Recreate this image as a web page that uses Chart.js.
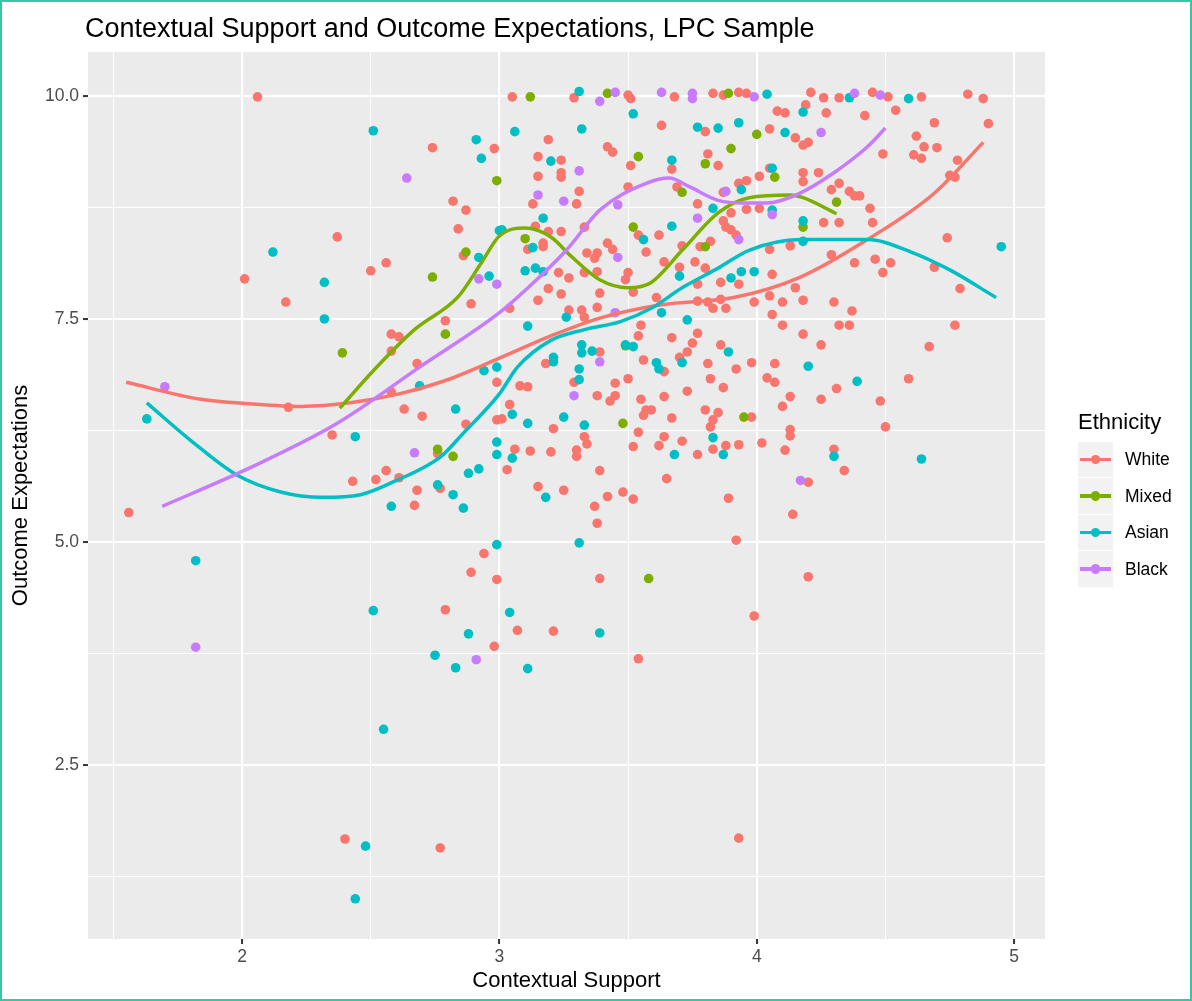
<!DOCTYPE html>
<html>
<head>
<meta charset="utf-8">
<title>Contextual Support and Outcome Expectations</title>
<script src="https://cdn.jsdelivr.net/npm/chart.js@4.4.1/dist/chart.umd.min.js"></script>
<style>
  html, body { margin: 0; padding: 0; background: #ffffff; }
  #wrap { position: relative; width: 1192px; height: 1001px; overflow: hidden; background: #ffffff; }
  #frame { position: absolute; left: 0; top: 0; width: 1188px; height: 997px; border: 2px solid #35c9a3; pointer-events: none; z-index: 3; }
  #chart { position: absolute; left: 0; top: 0; }
  #title { position: absolute; left: 85px; top: 12px; font-family: "Liberation Sans", Arial, sans-serif; font-size: 27px; line-height: 32px; color: #000; white-space: nowrap; z-index: 2; }
  #legend { position: absolute; left: 1078px; top: 408px; font-family: "Liberation Sans", Arial, sans-serif; z-index: 2; }
  #legend .ltitle { font-size: 22px; line-height: 28px; color: #000; margin-bottom: 5px; }
  #legend .row { position: relative; height: 36.5px; }
  #legend .key { position: absolute; left: 0; top: 0.5px; width: 34.5px; height: 35.5px; background: #f2f2f2; }
  #legend .key .ln { position: absolute; left: 2px; right: 2px; top: 16px; height: 3.5px; }
  #legend .key .dt { position: absolute; left: 12.5px; top: 13px; width: 9.6px; height: 9.6px; border-radius: 50%; }
  #legend .lab { position: absolute; left: 47px; top: 0; line-height: 36.5px; font-size: 17.5px; color: #000; }
</style>
</head>
<body>
<div id="wrap">
  <canvas id="chart" width="1192" height="1001"></canvas>
  <div id="title">Contextual Support and Outcome Expectations, LPC Sample</div>
  <div id="legend"></div>
  <div id="frame"></div>
</div>
<script>
// ---- groups and colours ----
const groups = ['White', 'Mixed', 'Asian', 'Black'];
const groupColors = ['#F8766D', '#7CAE00', '#00BFC4', '#C77CFF'];

// ---- axis ticks ----
const xMajor = [2, 3, 4, 5];
const xTickLabels = ['2', '3', '4', '5'];
const xMinor = [1.5, 2.5, 3.5, 4.5];
const yMajor = [2.5, 5, 7.5, 10];
const yTickLabels = ['2.5', '5.0', '7.5', '10.0'];
const yMinor = [1.25, 3.75, 6.25, 8.75];

// ---- respondents: Contextual Support (x) and Outcome Expectations (y) ----
const whiteX = [
  1.56,2.06,2.01,2.17,2.18,2.35,2.67,2.94,2.89,2.79,
  2.40,2.77,2.74,2.98,2.82,2.87,2.84,2.37,2.86,2.56,
  2.50,2.89,2.79,2.58,2.61,2.58,2.68,2.99,2.58,2.63,
  2.70,2.87,2.99,2.76,2.43,2.52,2.56,2.61,2.68,2.77,
  2.99,2.98,3.05,3.29,3.50,3.51,3.19,3.42,3.44,3.15,
  3.24,3.51,3.24,3.24,3.15,3.50,3.31,3.13,3.30,3.14,
  3.33,3.19,3.24,3.54,3.17,3.17,3.11,3.42,3.44,3.57,
  3.34,3.38,3.37,3.23,3.27,3.33,3.38,3.50,3.49,3.19,
  3.24,3.39,3.52,3.15,3.04,3.27,3.32,3.38,3.33,3.55,
  3.39,3.54,3.56,3.18,3.29,3.08,3.11,3.45,3.50,3.38,
  3.43,3.45,3.55,3.57,3.56,3.04,3.21,3.33,3.34,3.54,
  3.52,3.01,3.06,3.12,3.20,3.30,3.30,3.03,3.39,3.15,
  3.25,3.37,3.42,3.48,3.52,3.38,3.39,3.07,3.21,3.54,
  3.68,3.83,3.87,3.93,3.96,4.08,4.11,3.63,3.80,4.05,
  4.15,3.81,3.85,3.67,4.05,4.01,3.69,3.93,3.96,3.87,
  3.77,3.96,4.01,3.90,3.87,3.88,3.90,3.92,3.62,3.71,
  3.78,3.82,4.05,4.13,3.64,3.76,3.70,3.80,3.86,3.93,
  4.06,4.15,3.77,3.61,3.77,3.81,3.86,3.83,3.88,3.99,
  4.05,4.10,4.06,4.10,3.67,3.77,3.75,3.73,3.70,3.64,
  3.86,3.81,3.92,3.98,4.07,4.04,4.07,3.82,3.87,3.73,
  3.64,4.13,4.10,3.59,3.80,3.85,3.83,3.82,3.67,3.98,
  3.64,3.62,3.71,3.83,3.88,3.93,4.02,3.77,4.13,4.13,
  4.11,3.65,3.89,4.14,3.92,3.99,3.93,4.21,4.26,4.32,
  4.45,4.51,4.64,4.82,4.88,4.19,4.27,4.42,4.54,4.69,
  4.90,4.62,4.65,4.70,4.61,4.64,4.49,4.18,4.20,4.78,
  4.75,4.77,4.24,4.18,4.18,4.32,4.29,4.36,4.38,4.40,
  4.44,4.26,4.32,4.45,4.74,4.29,4.38,4.46,4.52,4.49,
  4.69,4.79,4.18,4.30,4.37,4.32,4.36,4.77,4.18,4.25,
  4.67,4.59,4.31,4.25,4.48,4.50,4.30,4.34,4.20,4.20
];
const whiteY = [
  5.33,9.99,7.95,7.69,6.51,6.20,5.41,4.87,4.66,4.24,
  1.67,1.57,9.42,9.41,8.82,8.72,8.51,8.42,8.21,8.13,
  8.04,7.67,7.48,7.33,7.30,7.14,7.00,6.79,6.68,6.49,
  6.41,6.32,6.37,5.99,5.68,5.70,5.80,5.72,5.58,5.60,
  4.58,3.83,9.99,9.98,10.01,9.97,9.51,9.43,9.37,9.32,
  9.28,9.22,9.14,9.09,9.10,8.98,8.93,8.79,8.79,8.54,
  8.53,8.48,8.48,8.44,8.35,8.31,8.28,8.35,8.28,8.25,
  8.24,8.24,8.18,8.02,7.96,8.02,8.03,8.02,7.94,7.84,
  7.78,7.79,7.80,7.71,7.62,7.60,7.60,7.63,7.52,7.43,
  7.13,7.31,7.04,7.00,6.79,6.75,6.74,6.78,6.83,6.64,
  6.58,6.64,6.60,6.48,6.42,6.54,6.27,6.18,6.10,6.23,
  6.07,6.38,6.04,6.02,6.01,6.03,5.96,5.81,5.80,5.62,
  5.58,5.40,5.51,5.56,5.48,5.21,4.59,4.01,4.00,3.69,
  9.99,10.03,10.01,10.04,10.03,9.83,9.81,9.67,9.60,9.63,
  9.53,9.35,9.22,9.18,9.19,9.10,8.98,9.02,9.05,8.92,
  8.79,8.73,8.74,8.69,8.60,8.53,8.50,8.44,8.44,8.32,
  8.31,8.37,8.28,8.32,8.14,8.14,8.08,8.07,7.91,7.89,
  8.00,7.85,7.89,7.74,7.70,7.69,7.72,7.62,7.62,7.69,
  7.76,7.69,7.55,7.43,7.29,7.34,7.23,7.13,7.07,6.91,
  7.21,7.00,6.94,7.01,7.00,6.84,6.79,6.83,6.73,6.69,
  6.63,6.63,6.52,6.48,6.48,6.45,6.37,6.29,6.39,6.40,
  6.18,6.08,6.13,6.04,6.08,6.09,6.11,5.98,6.26,6.19,
  6.03,5.71,5.49,5.31,5.02,4.17,1.68,10.04,9.98,9.98,
  10.04,9.99,9.99,10.02,9.97,9.90,9.81,9.78,9.84,9.70,
  9.69,9.55,9.43,9.42,9.34,9.30,9.35,9.45,9.48,9.28,
  9.11,9.09,9.14,9.14,9.04,9.02,8.95,8.93,8.88,8.88,
  8.74,8.58,8.58,8.58,8.41,8.22,8.13,8.17,8.13,8.02,
  8.08,7.84,7.71,7.69,7.59,7.43,7.43,7.43,7.33,7.21,
  7.19,6.83,6.72,6.60,6.58,6.29,6.04,5.80,5.67,4.61
];

const mixedX = [
  2.39,2.79,2.99,2.87,2.74,2.76,2.82,3.12,3.42,3.54,
  3.52,3.10,3.49,3.48,3.58,3.89,4.00,3.90,3.80,4.07,
  3.71,3.80,3.95,4.31,4.18
];
const mixedY = [
  7.12,7.33,9.05,8.25,7.97,6.04,5.96,9.99,10.03,9.32,
  8.53,8.40,7.20,6.33,4.59,10.03,9.57,9.41,9.24,9.09,
  8.92,8.31,6.40,8.81,8.53
];

const asianX = [
  1.63,1.82,2.58,2.86,2.51,2.88,2.75,2.83,2.55,2.48,
  2.44,2.12,2.32,2.32,2.51,2.91,2.93,3.00,2.92,2.96,
  2.94,2.99,2.69,2.83,2.99,2.99,2.44,2.88,2.92,2.76,
  2.82,2.99,3.31,3.52,3.06,3.32,3.20,3.17,3.01,3.56,
  3.13,3.10,3.14,3.17,3.26,3.11,3.32,3.32,3.36,3.49,
  3.52,3.21,3.21,3.31,3.31,3.05,3.11,3.25,3.33,3.05,
  3.18,3.31,3.04,3.39,3.11,4.04,3.77,3.85,3.93,4.11,
  3.67,4.06,3.94,3.83,4.06,3.67,3.70,3.90,3.94,3.99,
  3.63,3.73,3.71,3.61,3.62,3.89,3.83,3.68,3.87,4.36,
  4.59,4.18,4.18,4.18,4.95,4.20,4.39,4.30,4.64
];
const asianY = [
  6.38,4.79,5.40,5.38,4.23,3.97,3.73,3.59,2.90,1.59,
  1.00,8.25,7.91,7.50,9.61,9.51,9.30,8.49,8.19,7.98,
  6.92,6.96,6.75,6.49,6.12,5.98,6.18,5.77,5.82,5.64,
  5.53,4.97,10.05,9.80,9.60,9.63,9.27,8.63,8.50,8.39,
  8.30,8.04,8.07,8.03,7.52,7.42,7.21,7.12,7.14,7.21,
  7.19,7.07,7.02,6.94,6.82,6.43,6.33,6.40,6.31,5.94,
  5.50,4.99,4.21,3.98,3.58,10.02,9.65,9.64,9.70,9.59,
  9.28,9.19,8.95,8.74,8.72,8.54,7.98,7.96,8.03,8.03,
  7.57,7.49,7.01,7.01,6.94,7.13,6.17,5.98,5.98,9.98,
  9.97,9.82,8.60,8.37,8.31,6.97,6.80,5.96,5.93
];

const blackX = [
  1.70,1.82,2.91,2.64,2.92,2.99,2.67,3.45,3.39,3.31,
  3.15,3.25,3.46,3.46,3.45,3.39,3.29,3.63,3.75,3.75,
  3.99,3.88,4.06,3.77,3.93,4.38,4.48,4.25,4.17
];
const blackY = [
  6.74,3.82,3.68,9.08,7.95,7.89,6.00,10.04,9.94,9.16,
  8.89,8.82,8.78,8.19,7.57,7.02,6.64,10.04,10.03,9.97,
  9.99,8.93,8.67,8.63,8.39,10.03,10.01,9.59,5.69
];

// ---- smoothed trend for each group ----
const whiteFitX = [1.55,1.84,2.03,2.23,2.42,2.61,2.81,3.00,3.20,3.39,3.63,3.91,4.17,4.43,4.69,4.88];
const whiteFitY = [6.79,6.60,6.55,6.52,6.56,6.66,6.83,7.06,7.31,7.51,7.66,7.74,7.97,8.39,8.91,9.48];
const mixedFitX = [2.38,2.52,2.67,2.84,2.93,3.00,3.10,3.20,3.28,3.39,3.50,3.59,3.71,3.85,3.97,4.13,4.18,4.31];
const mixedFitY = [6.50,6.95,7.38,7.75,8.13,8.43,8.52,8.42,8.20,7.94,7.85,7.91,8.27,8.69,8.86,8.89,8.86,8.68];
const asianFitX = [1.63,1.80,1.98,2.15,2.31,2.46,2.60,2.77,2.86,3.00,3.07,3.20,3.33,3.47,3.59,3.71,3.85,3.97,4.17,4.43,4.60,4.75,4.93];
const asianFitY = [6.56,6.14,5.75,5.56,5.50,5.53,5.69,5.95,6.22,6.66,6.96,7.26,7.38,7.47,7.62,7.85,8.07,8.27,8.39,8.39,8.25,8.05,7.74];
const blackFitX = [1.69,2.03,2.37,2.69,3.00,3.13,3.26,3.39,3.57,3.66,3.74,3.85,3.95,4.04,4.16,4.30,4.43,4.50];
const blackFitY = [5.40,5.83,6.33,6.96,7.57,7.90,8.27,8.72,9.02,9.08,8.98,8.83,8.80,8.80,8.90,9.14,9.43,9.64];

// ---- build datasets ----
const zip = (xs, ys) => xs.map((x, i) => ({ x: x, y: ys[i] }));
const pointSets = [[whiteX, whiteY], [mixedX, mixedY], [asianX, asianY], [blackX, blackY]];
const fitSets = [[whiteFitX, whiteFitY], [mixedFitX, mixedFitY], [asianFitX, asianFitY], [blackFitX, blackFitY]];

const datasets = [];
groups.forEach((g, i) => {
  datasets.push({
    type: 'scatter',
    label: g,
    data: zip(pointSets[i][0], pointSets[i][1]),
    backgroundColor: groupColors[i],
    borderWidth: 0,
    pointRadius: 4.8,
    pointHoverRadius: 4.8,
    order: 8 - i
  });
});
groups.forEach((g, i) => {
  datasets.push({
    type: 'line',
    label: g + ' trend',
    data: zip(fitSets[i][0], fitSets[i][1]),
    borderColor: groupColors[i],
    borderWidth: 3.5,
    pointRadius: 0,
    fill: false,
    cubicInterpolationMode: 'monotone',
    order: 4 - i
  });
});

// grey panel behind the data
const panelBackground = {
  id: 'panelBackground',
  beforeDraw(chart) {
    const { ctx, chartArea: a } = chart;
    ctx.save();
    ctx.fillStyle = '#EBEBEB';
    ctx.fillRect(a.left, a.top, a.right - a.left, a.bottom - a.top);
    ctx.restore();
  }
};

const fontFamily = '"Liberation Sans", Arial, sans-serif';
const isMajorX = v => xMajor.some(m => Math.abs(m - v) < 1e-9);
const isMajorY = v => yMajor.some(m => Math.abs(m - v) < 1e-9);

new Chart(document.getElementById('chart'), {
  data: { datasets: datasets },
  plugins: [panelBackground],
  options: {
    responsive: false,
    devicePixelRatio: 1,
    animation: false,
    events: [],
    layout: { padding: { left: 0, right: 147, top: 52, bottom: 0 } },
    plugins: { legend: { display: false }, tooltip: { enabled: false }, title: { display: false } },
    scales: {
      x: {
        type: 'linear',
        min: 1.4015,
        max: 5.12,
        afterBuildTicks: s => { s.ticks = xMinor.concat(xMajor).sort((a, b) => a - b).map(v => ({ value: v })); },
        afterFit: s => { s.height = 62; },
        border: { display: false },
        grid: {
          color: '#FFFFFF',
          lineWidth: c => (isMajorX(c.tick.value) ? 2.1 : 1.05),
          tickColor: c => (isMajorX(c.tick.value) ? '#333333' : 'rgba(0,0,0,0)'),
          tickWidth: 2,
          tickLength: 5
        },
        ticks: {
          autoSkip: false,
          maxRotation: 0,
          padding: 3,
          color: '#4D4D4D',
          font: { family: fontFamily, size: 17.5 },
          callback: v => { const k = xMajor.findIndex(m => Math.abs(m - v) < 1e-9); return k < 0 ? '' : xTickLabels[k]; }
        },
        title: { display: true, text: 'Contextual Support', color: '#000', font: { family: fontFamily, size: 22 }, padding: 7 }
      },
      y: {
        type: 'linear',
        min: 0.549,
        max: 10.493,
        afterBuildTicks: s => { s.ticks = yMinor.concat(yMajor).sort((a, b) => a - b).map(v => ({ value: v })); },
        afterFit: s => { s.width = 88; },
        border: { display: false },
        grid: {
          color: '#FFFFFF',
          lineWidth: c => (isMajorY(c.tick.value) ? 2.1 : 1.05),
          tickColor: c => (isMajorY(c.tick.value) ? '#333333' : 'rgba(0,0,0,0)'),
          tickWidth: 2,
          tickLength: 5
        },
        ticks: {
          autoSkip: false,
          padding: 4,
          color: '#4D4D4D',
          font: { family: fontFamily, size: 17.5 },
          callback: v => { const k = yMajor.findIndex(m => Math.abs(m - v) < 1e-9); return k < 0 ? '' : yTickLabels[k]; }
        },
        title: { display: true, text: 'Outcome Expectations', color: '#000', font: { family: fontFamily, size: 22 }, padding: 8 }
      }
    }
  }
});

// legend: line with a point, one key per group
const legend = document.getElementById('legend');
const lt = document.createElement('div');
lt.className = 'ltitle';
lt.textContent = 'Ethnicity';
legend.appendChild(lt);
groups.forEach((g, i) => {
  const row = document.createElement('div');
  row.className = 'row';
  row.innerHTML = '<div class="key"><div class="ln" style="background:' + groupColors[i] + '"></div>' +
    '<div class="dt" style="background:' + groupColors[i] + '"></div></div>' +
    '<div class="lab">' + g + '</div>';
  legend.appendChild(row);
});
</script>
</body>
</html>
